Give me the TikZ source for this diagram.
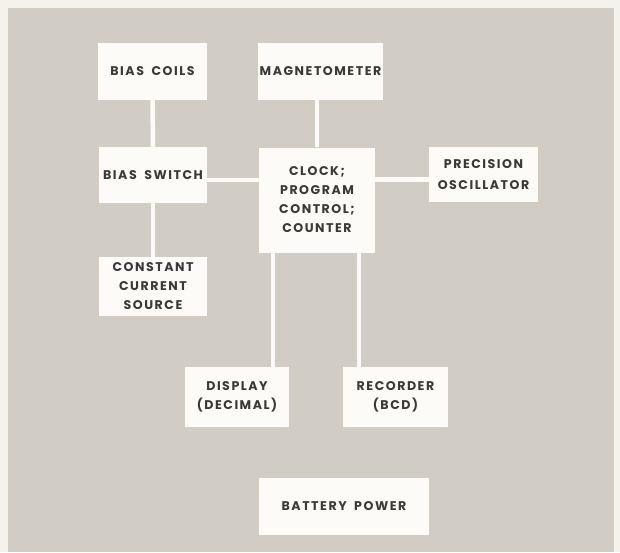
\documentclass[tikz,border=0pt]{standalone}
\usepackage{fontspec}
\setmainfont{Poppins}[WordSpace=1.8]
\definecolor{paper}{HTML}{F4F2EC}
\definecolor{panel}{HTML}{D2CDC4}
\definecolor{boxfill}{HTML}{FCFBF7}
\definecolor{ink}{HTML}{3A3937}
\begin{document}
\begin{tikzpicture}[x=1pt,y=-1pt,
  blk/.style={fill=boxfill, draw=none, align=center, inner sep=0pt,
    font=\fontsize{12.6}{19}\selectfont\bfseries\addfontfeatures{LetterSpace=12},
    text=ink},
  wire/.style={draw=boxfill, line width=4.5pt}]
\fill[paper] (0,0) rectangle (620,552);
\useasboundingbox (0,0) rectangle (620,552);
\fill[panel] (8,8) rectangle (614,552);
\node[blk, minimum width=109pt, minimum height=57pt] (bc) at (152.5,71.5) {BIAS COILS};
\node[blk, minimum width=125pt, minimum height=57pt] (mag) at (320.5,71.5) {MAGNETOMETER};
\node[blk, minimum width=108pt, minimum height=56pt] (bs) at (153,175) {BIAS SWITCH};
\node[blk, minimum width=116pt, minimum height=105pt] (clk) at (317,200) {CLOCK;\\PROGRAM\\CONTROL;\\COUNTER};
\node[blk, minimum width=109pt, minimum height=55pt] (osc) at (483.5,174.5) {PRECISION\\[2pt]OSCILLATOR};
\node[blk, minimum width=108pt, minimum height=59pt] (ccs) at (153,286.5) {CONSTANT\\CURRENT\\SOURCE};
\node[blk, minimum width=104pt, minimum height=60pt] (disp) at (237,397) {DISPLAY\\(DECIMAL)};
\node[blk, minimum width=105pt, minimum height=60pt] (rec) at (395.5,397) {RECORDER\\(BCD)};
\node[blk, minimum width=170pt, minimum height=57pt] (bat) at (344,506.5) {BATTERY POWER};
\draw[wire] (bc.south) -- (bs.north);
\draw[wire] (bs.south) -- (ccs.north);
\draw[wire] (clk.north) -- (clk.north |- mag.south);
\draw[wire] ([yshift=-5pt]bs.east) -- ([yshift=-5pt]bs.east -| clk.west);
\draw[wire] ([yshift=-5pt]osc.west) -- ([yshift=-5pt]osc.west -| clk.east);
\draw[wire] ([xshift=14pt]clk.south west) -- ([xshift=14pt]clk.south west |- disp.north);
\draw[wire] ([xshift=-16pt]clk.south east) -- ([xshift=-16pt]clk.south east |- rec.north);
\end{tikzpicture}
\end{document}
